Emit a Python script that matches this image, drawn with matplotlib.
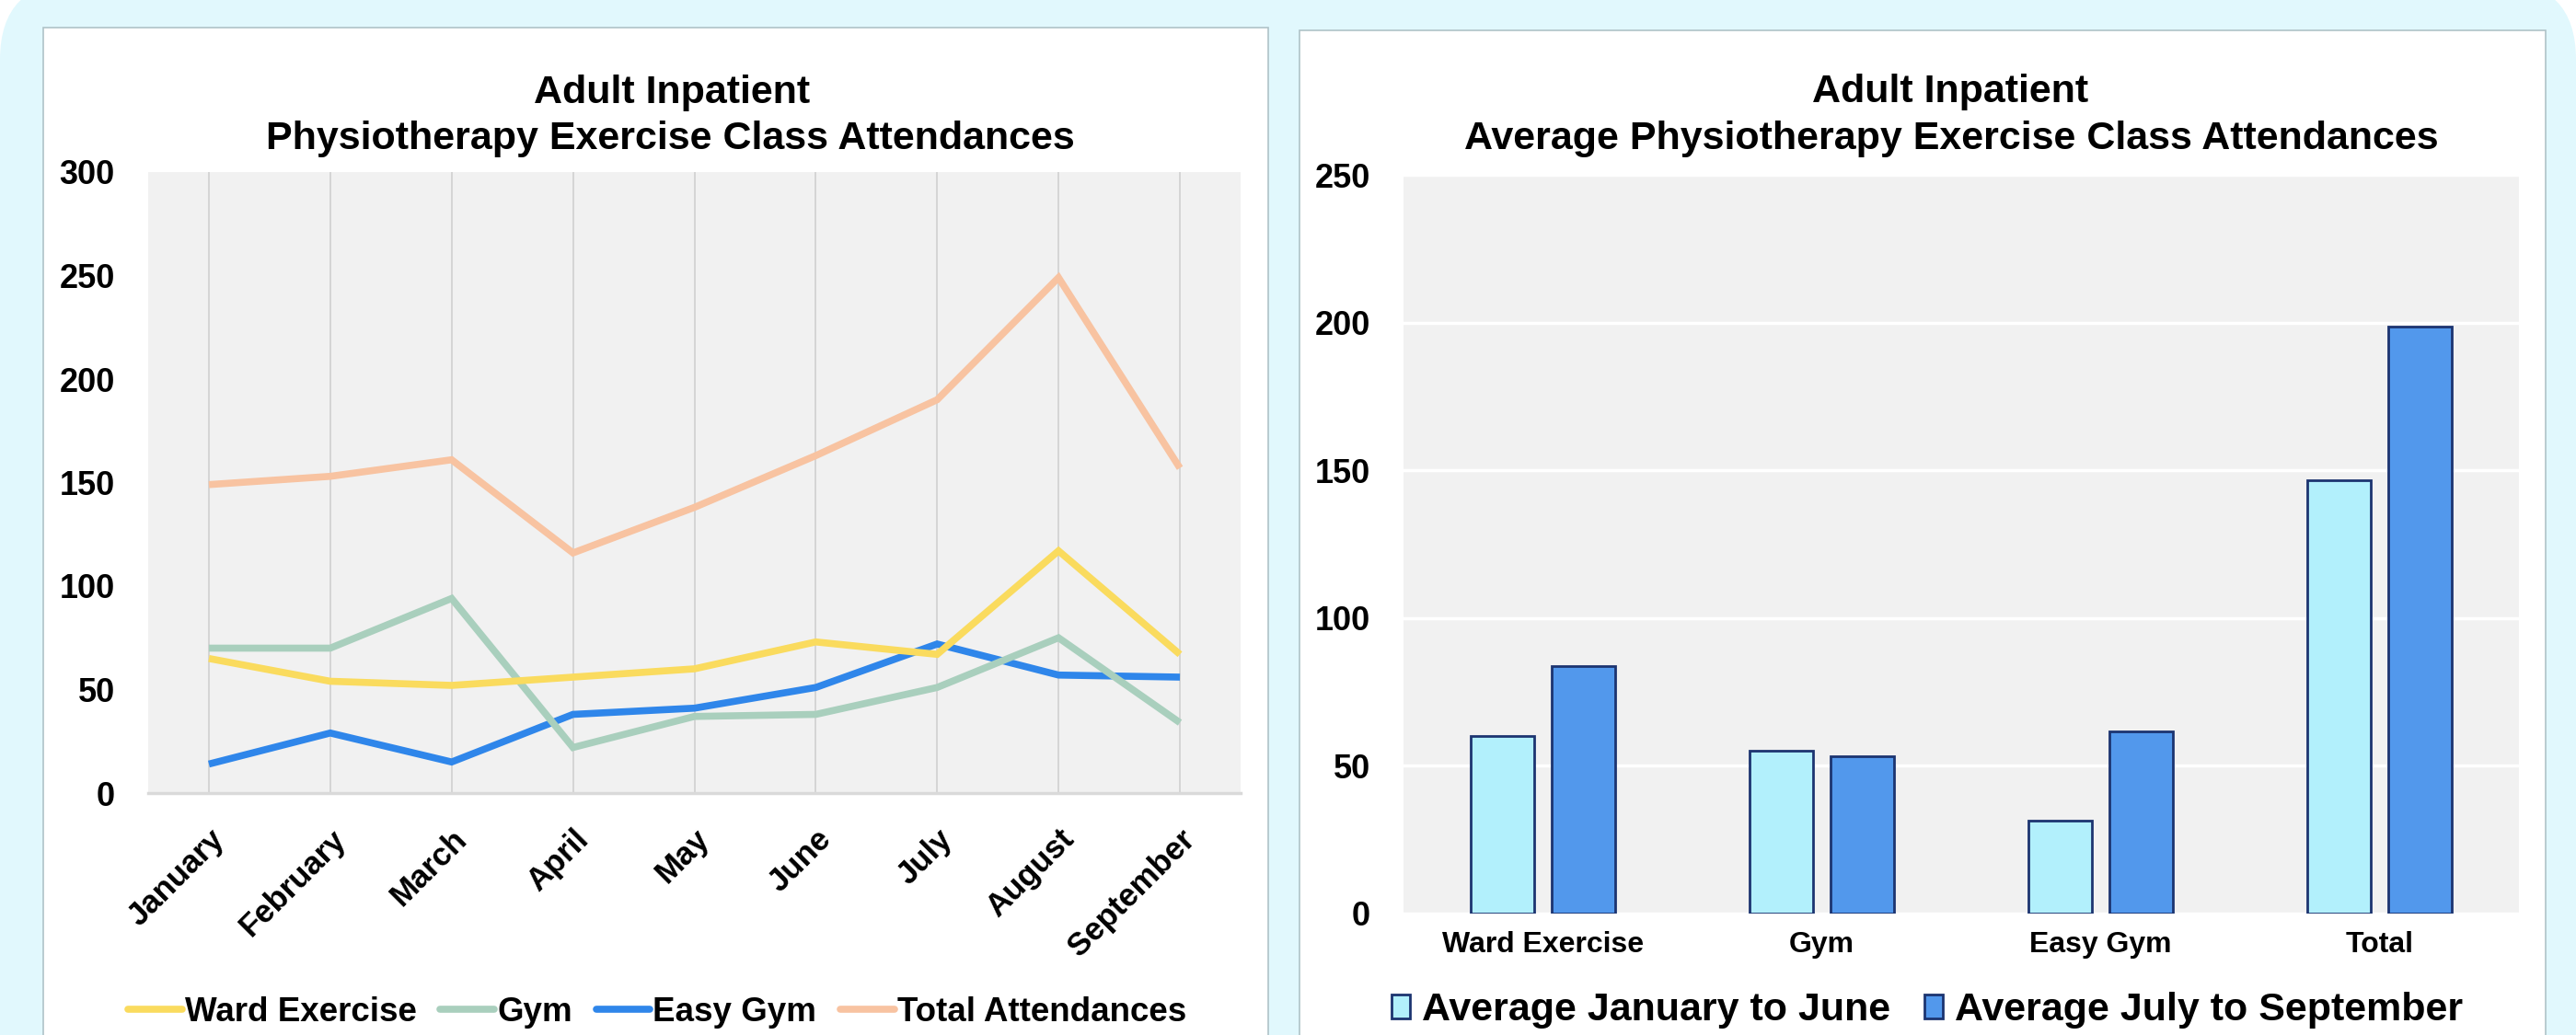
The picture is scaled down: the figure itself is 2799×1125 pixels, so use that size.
"""
Adult inpatient physiotherapy exercise class attendances:
monthly lines (left) and period averages (right).
"""

import numpy as np
import matplotlib.pyplot as plt
from matplotlib.patches import FancyBboxPatch, Rectangle, Patch
from matplotlib.lines import Line2D

plt.rcParams['font.family'] = ['Liberation Sans', 'DejaVu Sans']
plt.rcParams['font.weight'] = 'bold'

# ── Data ──────────────────────────────────────────────────────
MONTHS = ["January", "February", "March", "April", "May",
          "June", "July", "August", "September"]
WARD_EXERCISE = [65, 54, 52, 56, 60, 73, 67, 117, 67]
GYM = [70, 70, 94, 22, 37, 38, 51, 75, 34]
EASY_GYM = [14, 29, 15, 38, 41, 51, 72, 57, 56]
TOTAL_ATTENDANCES = [149, 153, 161, 116, 138, 163, 190, 249, 157]

CATEGORIES = ["Ward Exercise", "Gym", "Easy Gym", "Total"]
AVG_JAN_JUN = [60.0, 55.2, 31.3, 146.5]
AVG_JUL_SEP = [83.7, 53.3, 61.7, 198.7]

# ── Canvas (pixel coords helper) ──────────────────────────────
W, H = 2799, 1125


def box(x0, y0, x1, y1):
    """pixel box (top-left origin) -> figure fraction rect"""
    return [x0 / W, 1 - y1 / H, (x1 - x0) / W, (y1 - y0) / H]


fig = plt.figure(figsize=(W / 100, H / 100), dpi=100)
fig.patch.set_facecolor("white")

bg = fig.add_axes([0, 0, 1, 1])
bg.set_xlim(0, W)
bg.set_ylim(H, 0)
bg.axis("off")
bg.add_patch(FancyBboxPatch((0, -20), W, H + 300,
                            boxstyle="round,pad=0,rounding_size=85",
                            fc="#E1F8FD", ec="none"))
bg.add_patch(Rectangle((47.5, 30), 1330.5, H, fc="white", ec="#AFC3C8", lw=1.2))
bg.add_patch(Rectangle((1412, 33), 1354, H, fc="white", ec="#AFC3C8", lw=1.2))

TITLE_FS = 31
TICK_FS = 26

# ── Left: monthly lines ───────────────────────────────────────
ax1 = fig.add_axes(box(161, 187, 1348, 862))
ax1.set_facecolor("#F1F1F1")
x = np.arange(len(MONTHS))
series = [
    ("Ward Exercise", WARD_EXERCISE, "#FADB5E"),
    ("Gym", GYM, "#A9CFBD"),
    ("Easy Gym", EASY_GYM, "#2F86EA"),
    ("Total Attendances", TOTAL_ATTENDANCES, "#F8C3A1"),
]
for name, vals, col in series[::-1]:
    ax1.plot(x, vals, color=col, lw=5.5, solid_capstyle="butt", solid_joinstyle="miter")

ax1.set_xlim(-0.5, len(MONTHS) - 0.5)
ax1.set_ylim(0, 300)
ax1.set_yticks(range(0, 301, 50))
ax1.set_xticks(x)
ax1.set_xticklabels(MONTHS, rotation=45, ha="right", va="top",
                    rotation_mode="anchor", fontsize=25)
ax1.tick_params(axis="y", length=0, pad=26, labelsize=TICK_FS)
ax1.tick_params(axis="x", length=0, pad=24)
ax1.grid(axis="x", color="#D3D3D3", lw=1.3)
ax1.set_axisbelow(True)
for s in ["top", "right", "left"]:
    ax1.spines[s].set_visible(False)
ax1.spines["bottom"].set_color("#D9D9D9")
ax1.spines["bottom"].set_linewidth(2.5)

fig.text(730 / W, 1 - 101 / H, "Adult Inpatient", ha="center", va="center",
         fontsize=TITLE_FS)
fig.text(728 / W, 1 - 151 / H, "Physiotherapy Exercise Class Attendances",
         ha="center", va="center", fontsize=TITLE_FS)

handles1 = [Line2D([], [], color=c, lw=5.5, solid_capstyle="round") for _, _, c in series]
fig.legend(handles1, [n for n, _, _ in series], loc="center",
           bbox_to_anchor=(714 / W, 1 - 1100 / H), ncol=4, frameon=False,
           fontsize=26.5, handlelength=1.6, handletextpad=0.08, columnspacing=0.7)

# ── Right: average bars ───────────────────────────────────────
ax2 = fig.add_axes(box(1525, 190, 2737, 993))
ax2.set_facecolor("#F1F1F1")
xc = np.arange(len(CATEGORIES))
bw = 0.228
ax2.bar(xc - 0.144, AVG_JAN_JUN, bw, color="#B2F0FC", edgecolor="#1C3470", lw=2,
        label="Average January to June")
ax2.bar(xc + 0.144, AVG_JUL_SEP, bw, color="#5298EC", edgecolor="#1C3470", lw=2,
        label="Average July to September")
ax2.set_xlim(-0.5, len(CATEGORIES) - 0.5)
ax2.set_ylim(0, 250)
ax2.set_yticks(range(0, 251, 50))
ax2.set_xticks(xc)
ax2.set_xticklabels(CATEGORIES, fontsize=23)
ax2.tick_params(axis="y", length=0, pad=26, labelsize=TICK_FS)
ax2.tick_params(axis="x", length=0, pad=14)
ax2.grid(axis="y", color="white", lw=2.5)
ax2.set_axisbelow(True)
for s in ax2.spines.values():
    s.set_visible(False)

fig.text(2119 / W, 1 - 100 / H, "Adult Inpatient", ha="center", va="center",
         fontsize=TITLE_FS)
fig.text(2120 / W, 1 - 151 / H,
         "Average Physiotherapy Exercise Class Attendances",
         ha="center", va="center", fontsize=TITLE_FS)

handles2 = [Patch(fc="#B2F0FC", ec="#1C3470", lw=2),
            Patch(fc="#5298EC", ec="#1C3470", lw=2)]
fig.legend(handles2, ["Average January to June", "Average July to September"],
           loc="center", bbox_to_anchor=(2094 / W, 1 - 1098 / H), ncol=2,
           frameon=False, fontsize=31, handlelength=0.47, handleheight=0.55,
           handletextpad=0.3, columnspacing=0.85)

fig.savefig("out.png", dpi=100)
